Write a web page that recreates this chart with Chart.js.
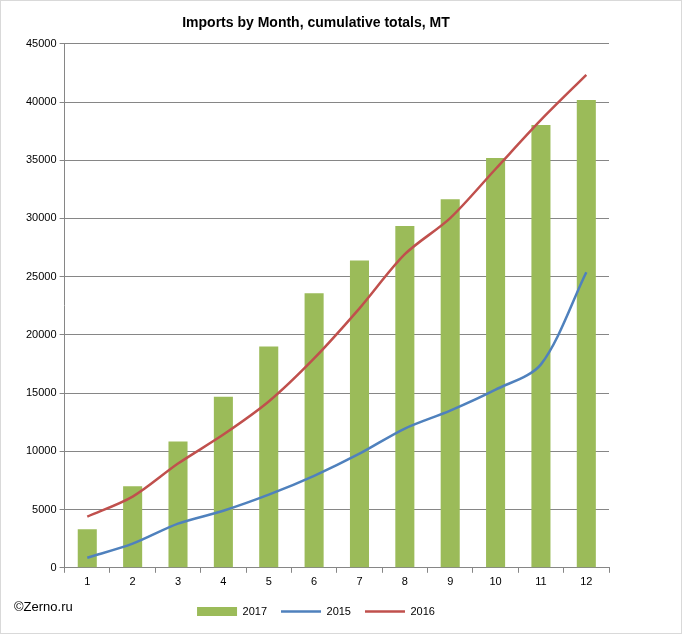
<!doctype html>
<html>
<head>
<meta charset="utf-8">
<script src="https://cdn.jsdelivr.net/npm/chart.js@4"></script>
<style>
  body { margin: 0; background: #fff; }
  #wrap { position: relative; width: 680px; height: 632px; border: 1px solid #d9d9d9; }
  #credit { position: absolute; left: 13px; top: 598px; font: 13px Arial, "Liberation Sans", sans-serif; color: #000; }
</style>
</head>
<body>
<div id="wrap">
  <canvas id="chart" width="680" height="632"></canvas>
  <div id="credit">©Zerno.ru</div>
</div>
<script>
var months = ["1","2","3","4","5","6","7","8","9","10","11","12"];
var imports2017 = [3300, 7000, 10850, 14700, 19000, 23580, 26400, 29350, 31650, 35200, 38030, 40180];
var imports2015 = [860, 2070, 3790, 4900, 6280, 7900, 9800, 11960, 13500, 15300, 17470, 25380];
var imports2016 = [4390, 6110, 8950, 11440, 14280, 17980, 22280, 26930, 30030, 34250, 38460, 42330];

var font = "Arial, 'Liberation Sans', sans-serif";
Chart.defaults.font.family = font;
Chart.defaults.color = "#000";

var ctx = document.getElementById("chart").getContext("2d");
new Chart(ctx, {
    type: "bar",
    data: {
        labels: months,
        datasets: [{
            label: "2017",
            data: imports2017,
            backgroundColor: "#9BBB59",
            barPercentage: 0.42,
            categoryPercentage: 1,
            pointStyle: "rect",
            order: 3
        }, {
            type: "line",
            label: "2015",
            data: imports2015,
            borderColor: "#4F81BD",
            backgroundColor: "#4F81BD",
            borderWidth: 2.5,
            pointRadius: 0,
            tension: 0.3,
            pointStyle: "line",
            order: 1
        }, {
            type: "line",
            label: "2016",
            data: imports2016,
            borderColor: "#C0504D",
            backgroundColor: "#C0504D",
            borderWidth: 2.5,
            pointRadius: 0,
            tension: 0.3,
            pointStyle: "line",
            order: 2
        }]
    },
    options: {
        responsive: false,
        animation: false,
        layout: { padding: { left: 22, right: 72, top: 2, bottom: 6 } },
        plugins: {
            title: {
                display: true,
                text: "Imports by Month, cumulative totals, MT",
                font: { size: 14, weight: "bold" },
                padding: { top: 12, bottom: 12 }
            },
            legend: {
                position: "bottom",
                labels: {
                    usePointStyle: true, pointStyleWidth: 40, boxHeight: 9, font: { size: 11 }, padding: 14,
                    sort: function (a, b) { return a.datasetIndex - b.datasetIndex; }
                }
            },
            tooltip: { enabled: false }
        },
        scales: {
            x: {
                grid: { display: true, drawOnChartArea: false, offset: true, color: "#868686", tickLength: 5 },
                border: { color: "#868686" },
                ticks: { font: { size: 11 } }
            },
            y: {
                min: 0,
                max: 45000,
                ticks: { stepSize: 5000, font: { size: 11 }, callback: function (v) { return String(v); } },
                grid: { color: "#868686", tickLength: 5 },
                border: { color: "#868686" }
            }
        }
    }
});
</script>
</body>
</html>
